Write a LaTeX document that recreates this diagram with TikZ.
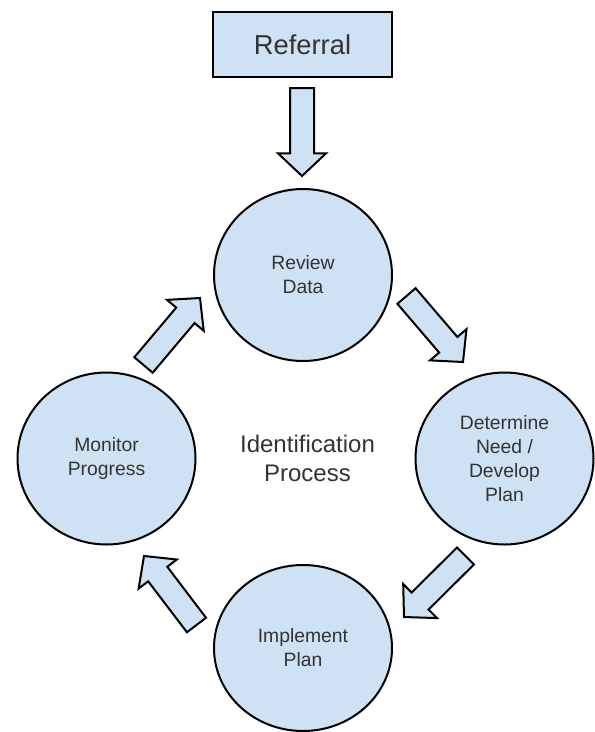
\documentclass[tikz,border=0pt]{standalone}
\usepackage{fontspec}
\setmainfont{Liberation Sans}
\usetikzlibrary{calc,shapes.geometric}
\definecolor{cellblue}{HTML}{CFE2F3}
\definecolor{labelgray}{HTML}{333333}

\begin{document}
\begin{tikzpicture}[x=0.75pt,y=-0.75pt]
 % styles for the stages and for the fat arrows between them
 \tikzset{stage/.style={ellipse, draw=black, line width=1.5pt, fill=cellblue, minimum width=133.5pt, minimum height=129pt, inner sep=0pt, align=center, text=labelgray, font=\fontsize{14.5}{18}\selectfont}}
 \tikzset{fatarrow/.style={draw=black, line width=1.5pt, fill=cellblue, line join=miter, to path={
   ($(\tikztostart)!9pt!90:(\tikztotarget)$)
   -- ($($(\tikztotarget)!17pt!(\tikztostart)$)!9pt!-90:(\tikztostart)$)
   -- ($($(\tikztotarget)!17pt!(\tikztostart)$)!18pt!-90:(\tikztostart)$)
   -- (\tikztotarget)
   -- ($($(\tikztotarget)!17pt!(\tikztostart)$)!18pt!90:(\tikztostart)$)
   -- ($($(\tikztotarget)!17pt!(\tikztostart)$)!9pt!90:(\tikztostart)$)
   -- ($(\tikztostart)!9pt!-90:(\tikztotarget)$) -- cycle}}}

 \useasboundingbox (0,0) rectangle (594,732);

 %referral box on top
 \node[draw=black, line width=1.5pt, fill=cellblue, minimum width=134pt, minimum height=48.75pt, text=labelgray, font=\fontsize{20.5}{24}\selectfont] (referral) at (302.5,44.5) {Referral};

 %the four stages of the cycle
 \node[stage] (review) at (303,275) {Review\\Data};
 \node[stage] (determine) at (504.5,458.5) {Determine\\Need /\\Develop\\Plan};
 \node[stage, minimum height=124.5pt] (implement) at (303,648) {Implement\\Plan};
 \node[stage] (monitor) at (106.5,458.5) {Monitor\\Progress};

 %label in the middle
 \node[text=labelgray, align=center, font=\fontsize{18}{21.75}\selectfont] (process) at (307.5,458.5) {Identification\\Process};

 %ends of the fat arrows
 \coordinate (intail) at (302,88);
 \coordinate (intip) at (302,176);
 \coordinate (rdtail) at (406.5,296);
 \coordinate (rdtip) at (463,362);
 \coordinate (ditail) at (465.5,556);
 \coordinate (ditip) at (404,617);
 \coordinate (imtail) at (196.5,625);
 \coordinate (imtip) at (144,556);
 \coordinate (mrtail) at (143.5,365);
 \coordinate (mrtip) at (200,298);

 %draw the fat arrows
 \draw[fatarrow] (intail) to (intip);
 \draw[fatarrow] (rdtail) to (rdtip);
 \draw[fatarrow] (ditail) to (ditip);
 \draw[fatarrow] (imtail) to (imtip);
 \draw[fatarrow] (mrtail) to (mrtip);
\end{tikzpicture}
\end{document}
